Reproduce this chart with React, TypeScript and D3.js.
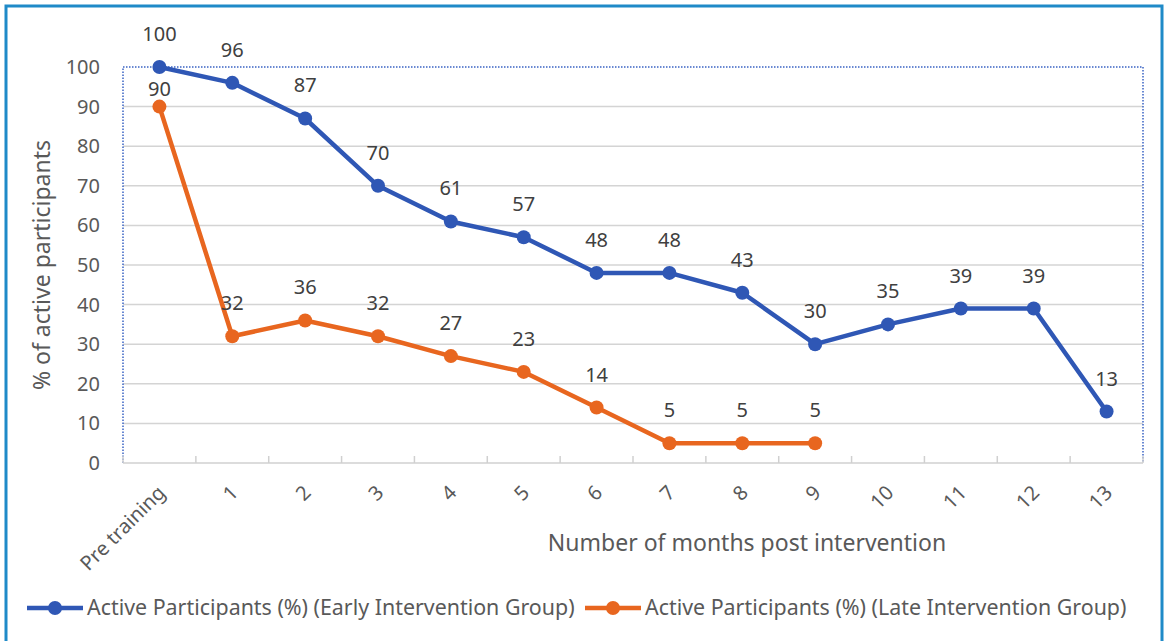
import React from "react";
import * as d3 from "d3";

const categories = ["Pre training", "1", "2", "3", "4", "5", "6", "7", "8", "9", "10", "11", "12", "13"];
const earlyValues = [100, 96, 87, 70, 61, 57, 48, 48, 43, 30, 35, 39, 39, 13];
const lateValues = [90, 32, 36, 32, 27, 23, 14, 5, 5, 5];
const yTicks = [0, 10, 20, 30, 40, 50, 60, 70, 80, 90, 100];
const seriesNames = [
  "Active Participants (%) (Early Intervention Group)",
  "Active Participants (%) (Late Intervention Group)",
];
const xTitle = "Number of months post intervention";
const yTitle = "% of active participants";

const W = 1164;
const H = 641;
const left = 123;
const right = 1143;
const top = 67;
const bottom = 463;
const BLUE = "#2f57b5";
const ORANGE = "#e8661f";
const FONT = "'Noto Sans', 'Open Sans', sans-serif";

export default function App() {
  const x = d3.scaleBand<string>().domain(categories).range([left, right]).padding(0);
  const y = d3.scaleLinear().domain([0, 100]).range([bottom, top]);
  const cx = (i: number) => (x(categories[i]) as number) + x.bandwidth() / 2;
  const line = d3
    .line<number>()
    .x((_, i) => cx(i))
    .y((d) => y(d));

  const series = [
    { values: earlyValues, color: BLUE },
    { values: lateValues, color: ORANGE },
  ];
  const boundaries = d3.range(categories.length + 1).map((k) => left + k * x.bandwidth());

  return (
    <svg width={W} height={H} style={{ position: "absolute", left: 0, top: 0, background: "#fff" }}>
      <rect x={6} y={6} width={1156} height={640} fill="#fff" stroke="#1f8ac8" strokeWidth={3} />
      {/* gridlines */}
      {yTicks.filter((t) => t > 0 && t < 100).map((t) => (
        <line key={t} x1={left} x2={right} y1={y(t)} y2={y(t)} stroke="#d4d4d4" strokeWidth={1.5} />
      ))}
      {/* plot area dotted border */}
      <path
        d={`M${left},${bottom} L${left},${top} L${right},${top} L${right},${bottom}`}
        fill="none"
        stroke="#3a63c4"
        strokeWidth={1.5}
        strokeDasharray="1.5,1.5"
      />
      {/* x axis line */}
      <line x1={left} x2={right} y1={bottom} y2={bottom} stroke="#d0d0d0" strokeWidth={1.5} />
      {boundaries.map((b, k) => (
        <line key={k} x1={b} x2={b} y1={bottom} y2={bottom - 7} stroke="#d0d0d0" strokeWidth={1.5} />
      ))}
      {/* y tick labels */}
      {yTicks.map((t) => (
        <text key={t} x={100} y={y(t)} dy="0.35em" textAnchor="end" fontFamily={FONT} fontSize={20} fill="#595959">
          {t}
        </text>
      ))}
      {/* x tick labels */}
      {categories.map((c, i) => (
        <text
          key={c}
          transform={`translate(${cx(i) + 2},${bottom + 26}) rotate(-45)`}
          textAnchor="end"
          dy="0.35em"
          fontFamily={FONT}
          fontSize={20}
          fill="#595959"
        >
          {c}
        </text>
      ))}
      {/* axis titles */}
      <text x={747} y={543} dy="0.35em" textAnchor="middle" fontFamily={FONT} fontSize={23} fill="#595959">
        {xTitle}
      </text>
      <text
        transform={`translate(42,265) rotate(-90)`}
        dy="0.35em"
        textAnchor="middle"
        fontFamily={FONT}
        fontSize={23}
        fill="#595959"
      >
        {yTitle}
      </text>
      {/* series */}
      {series.map((s, si) => (
        <g key={si}>
          <path d={line(s.values) as string} fill="none" stroke={s.color} strokeWidth={4.5} strokeLinejoin="round" />
          {s.values.map((v, i) => (
            <circle key={i} cx={cx(i)} cy={y(v)} r={7} fill={s.color} />
          ))}
          {s.values.map((v, i) => (
            <text
              key={"l" + i}
              x={cx(i)}
              y={y(v) - (si === 1 && i === 0 ? 18 : 33)}
              dy="0.35em"
              textAnchor="middle"
              fontFamily={FONT}
              fontSize={20}
              fill="#404040"
            >
              {v}
            </text>
          ))}
        </g>
      ))}
      {/* legend */}
      {series.map((s, si) => {
        const lx = si === 0 ? 27 : 585;
        const ly = 608;
        return (
          <g key={"leg" + si}>
            <line x1={lx} x2={lx + 56} y1={ly} y2={ly} stroke={s.color} strokeWidth={4.5} />
            <circle cx={lx + 28} cy={ly} r={7} fill={s.color} />
            <text x={lx + 60} y={ly} dy="0.35em" fontFamily={FONT} fontSize={21.4} fill="#595959">
              {seriesNames[si]}
            </text>
          </g>
        );
      })}
    </svg>
  );
}
